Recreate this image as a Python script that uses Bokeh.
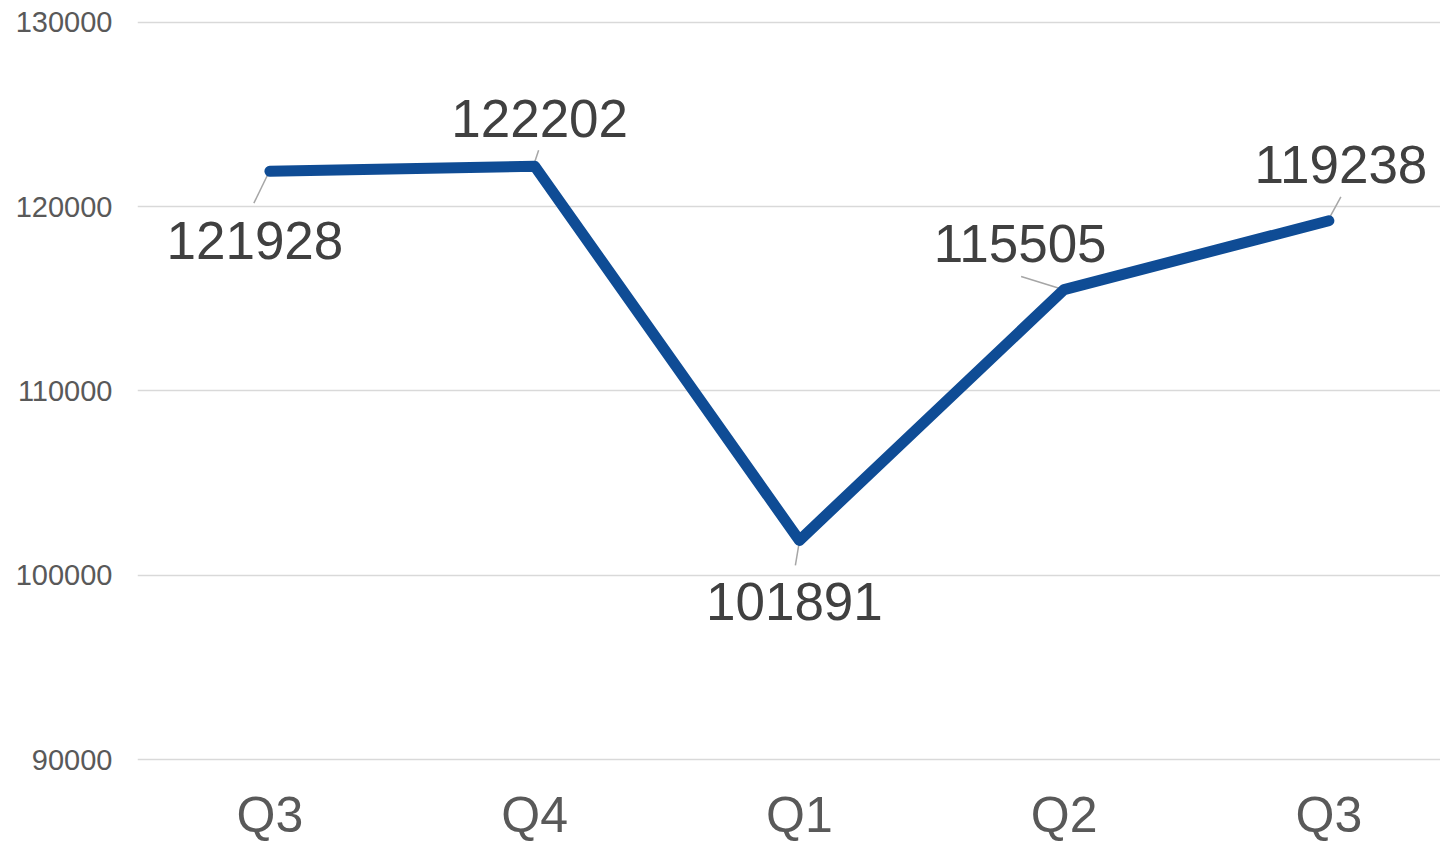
from bokeh.plotting import figure
from bokeh.models import FixedTicker, Range1d, ColumnDataSource, NumeralTickFormatter
from bokeh.core.properties import value
from bokeh.embed import file_html
from bokeh.resources import INLINE

# ---- data ----
quarters = ["Q3", "Q4", "Q1", "Q2", "Q3"]
values = [121928, 122202, 101891, 115505, 119238]
y_ticks = [90000, 100000, 110000, 120000, 130000]

# ---- label placement (screen-pixel offsets from each point; +dy = down) ----
label_dx = [-15, 5, -5, -44, 12]
label_dy = [69, -48, 61, -46, -56]
lead_start_dx = [-1, -1, 0, -1, 0]
lead_start_dy = [1, -1, 1, 0, -2]
lead_end_dx = [-16, 4, -4, -43, 12]
lead_end_dy = [32, -16, 25, -13, -24]

FONT = "Liberation Sans"
W, H = 1440, 845
LEFT, TOP, BOTTOM = 137, 2, 83
frame_w = W - LEFT
frame_h = H - TOP - BOTTOM
px_per_x = 264.75
px_per_y = 184.5 / 10000.0

x_start = -0.5
x_end = x_start + frame_w / px_per_x
y_start = 90000 - 2 / px_per_y
y_end = y_start + frame_h / px_per_y

p = figure(width=W, height=H, output_backend="svg", toolbar_location=None,
           x_range=Range1d(x_start, x_end), y_range=Range1d(y_start, y_end),
           min_border_left=LEFT, min_border_right=0, min_border_top=TOP,
           min_border_bottom=BOTTOM)
p.outline_line_color = None
p.background_fill_color = "white"
p.border_fill_color = "white"

xs = list(range(len(quarters)))

# axes
p.xaxis.ticker = FixedTicker(ticks=xs)
p.xaxis.major_label_overrides = {i: q for i, q in enumerate(quarters)}
p.xaxis.axis_line_color = None
p.xaxis.major_tick_line_color = None
p.xaxis.minor_tick_line_color = None
p.xaxis.major_tick_out = 0
p.xaxis.major_tick_in = 0
p.xaxis.minor_tick_out = 0
p.xaxis.major_label_text_font = FONT
p.xaxis.major_label_text_font_size = "50px"
p.xaxis.major_label_text_color = "#595959"
p.xaxis.major_label_standoff = 25

p.yaxis.ticker = FixedTicker(ticks=y_ticks)
p.yaxis.formatter = NumeralTickFormatter(format="0")
p.yaxis.axis_line_color = None
p.yaxis.major_tick_line_color = None
p.yaxis.minor_tick_line_color = None
p.yaxis.major_tick_out = 0
p.yaxis.major_tick_in = 0
p.yaxis.minor_tick_out = 0
p.yaxis.major_label_text_font = FONT
p.yaxis.major_label_text_font_size = "29px"
p.yaxis.major_label_text_color = "#595959"
p.yaxis.major_label_standoff = 25

p.xgrid.grid_line_color = None
p.ygrid.ticker = FixedTicker(ticks=y_ticks)
p.ygrid.grid_line_color = "#D9D9D9"
p.ygrid.grid_line_width = 1.5

# leader lines
x0 = [x + dx / px_per_x for x, dx in zip(xs, lead_start_dx)]
y0 = [v - dy / px_per_y for v, dy in zip(values, lead_start_dy)]
x1 = [x + dx / px_per_x for x, dx in zip(xs, lead_end_dx)]
y1 = [v - dy / px_per_y for v, dy in zip(values, lead_end_dy)]
p.segment(x0=x0, y0=y0, x1=x1, y1=y1, line_color="#A6A6A6", line_width=1.5)

# main line
p.line(xs, values, line_color="#0F4C95", line_width=11,
       line_cap="round", line_join="round")

# data labels
lx = [x + dx / px_per_x for x, dx in zip(xs, label_dx)]
ly = [v - dy / px_per_y for v, dy in zip(values, label_dy)]
src = ColumnDataSource(dict(x=lx, y=ly, t=[str(v) for v in values]))
p.text(x="x", y="y", text="t", source=src, text_font=value(FONT),
       text_font_size="53px", text_color="#404040",
       text_align="center", text_baseline="middle")

open("out.html", "w").write(file_html(p, INLINE))
